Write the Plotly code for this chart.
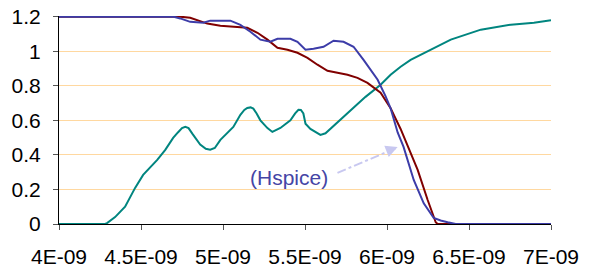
import plotly.graph_objects as go

# time in ns
teal_t = [4.0, 4.281, 4.293, 4.342, 4.403, 4.464, 4.513, 4.599, 4.648, 4.696, 4.725, 4.750, 4.770,
          4.790, 4.815, 4.861, 4.895, 4.922, 4.950, 4.984, 5.063, 5.106, 5.130, 5.148, 5.168, 5.185,
          5.205, 5.228, 5.271, 5.301, 5.350, 5.411, 5.440, 5.460, 5.475, 5.490, 5.503, 5.533,
          5.594, 5.625, 5.869, 5.961, 6.022, 6.083, 6.144, 6.266, 6.389, 6.572, 6.755, 6.896, 7.0]
teal_v = [0, 0, 0.005, 0.04, 0.1, 0.209, 0.284, 0.371, 0.429, 0.498, 0.53, 0.555, 0.562,
          0.555, 0.52, 0.46, 0.435, 0.43, 0.44, 0.487, 0.562, 0.632, 0.66, 0.672, 0.675, 0.668,
          0.64, 0.6, 0.555, 0.533, 0.556, 0.6, 0.64, 0.661, 0.66, 0.64, 0.58, 0.55,
          0.516, 0.525, 0.736, 0.806, 0.864, 0.91, 0.95, 1.009, 1.067, 1.125, 1.154, 1.165, 1.18]

blue_t = [4.0, 4.70, 4.739, 4.800, 4.880, 4.922, 5.045, 5.106, 5.167, 5.228, 5.289, 5.332, 5.411,
          5.454, 5.503, 5.552, 5.613, 5.674, 5.735, 5.796, 5.857, 5.943, 5.991, 6.022, 6.065, 6.101,
          6.163, 6.224, 6.285, 6.327, 6.370, 6.419, 7.0]
blue_v = [1.2, 1.2, 1.19, 1.17, 1.165, 1.177, 1.177, 1.153, 1.113, 1.067, 1.055, 1.072, 1.072,
          1.055, 1.009, 1.014, 1.026, 1.061, 1.055, 1.026, 0.95, 0.835, 0.74, 0.67, 0.53, 0.446,
          0.255, 0.12, 0.035, 0.02, 0.01, 0, 0]

red_t = [4.0, 4.739, 4.800, 4.904, 4.984, 5.063, 5.148, 5.210, 5.271, 5.332, 5.393, 5.454, 5.515,
         5.576, 5.637, 5.698, 5.759, 5.820, 5.881, 5.961, 6.022, 6.083, 6.144, 6.187, 6.248, 6.297,
         6.309, 7.0]
red_v = [1.2, 1.2, 1.194, 1.16, 1.148, 1.142, 1.136, 1.107, 1.067, 1.02, 1.009, 0.991, 0.962,
         0.922, 0.887, 0.875, 0.864, 0.846, 0.817, 0.76, 0.67, 0.55, 0.41, 0.313, 0.139, 0.01,
         0, 0]

x_ticks = [4.0e-9, 4.5e-9, 5.0e-9, 5.5e-9, 6.0e-9, 6.5e-9, 7.0e-9]
x_labels = ["4E-09", "4.5E-09", "5E-09", "5.5E-09", "6E-09", "6.5E-09", "7E-09"]
y_ticks = [0, 0.2, 0.4, 0.6, 0.8, 1.0, 1.2]
y_labels = ["0", "0.2", "0.4", "0.6", "0.8", "1", "1.2"]

ns = lambda arr: [v * 1e-9 for v in arr]

fig = go.Figure()
fig.add_trace(go.Scatter(x=ns(teal_t), y=teal_v, mode="lines",
                         line=dict(color="#00857F", width=2)))
fig.add_trace(go.Scatter(x=ns(red_t), y=red_v, mode="lines",
                         line=dict(color="#800000", width=2)))
fig.add_trace(go.Scatter(x=ns(blue_t), y=blue_v, mode="lines",
                         line=dict(color="#3C3CA8", width=2)))

font = dict(family="Liberation Sans, Arial, sans-serif", size=21, color="#000000")

fig.update_layout(
    width=592, height=270,
    margin=dict(l=59, r=41, t=16, b=46, autoexpand=False),
    paper_bgcolor="white", plot_bgcolor="white",
    showlegend=False,
    font=font,
    xaxis=dict(range=[4e-9, 7e-9], tickvals=x_ticks, ticktext=x_labels,
               showgrid=False, zeroline=False, showline=True, linecolor="black",
               linewidth=1, ticks="outside", ticklen=5, tickcolor="#555555",
               ticklabelstandoff=9, automargin=False),
    yaxis=dict(range=[0, 1.204], tickvals=y_ticks, ticktext=y_labels,
               showgrid=True, gridcolor="#FFD8A0", gridwidth=1, zeroline=False,
               showline=True, linecolor="black", linewidth=1, ticks="outside",
               ticklen=5, tickcolor="#555555", ticklabelstandoff=8, automargin=False),
)

# dash-dot arrow for the Hspice label
fig.add_shape(type="line", x0=5.698e-9, y0=0.296, x1=6.05e-9, y1=0.437,
              line=dict(color="#C8C8F0", width=2, dash="dashdot"))
fig.add_annotation(x=6.065e-9, y=0.446, ax=-10, ay=4, text="", showarrow=True,
                   arrowhead=2, arrowsize=1.2, arrowwidth=2, arrowcolor="#C8C8F0")
fig.add_annotation(x=5.405e-9, y=0.267, text="(Hspice)", showarrow=False,
                   font=dict(family="Liberation Sans, Arial, sans-serif", size=21, color="#4545A5"))

fig.write_html("out.html", config={"displayModeBar": False},
               post_script="document.body.style.margin='0';")
